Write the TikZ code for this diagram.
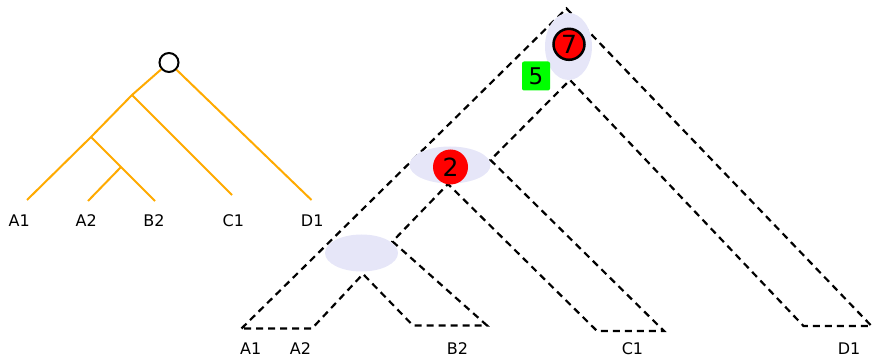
\documentclass[tikz,border=0pt]{standalone}
\usepackage{fontspec}
\setmainfont{DejaVu Sans}
\usetikzlibrary{shapes.geometric,positioning}
\definecolor{geneorange}{RGB}{255,170,0}
\definecolor{lavblob}{RGB}{230,230,248}
\definecolor{dupred}{RGB}{255,0,0}
\definecolor{lossgreen}{RGB}{0,255,0}
\tikzset{
  gene/.style={geneorange,line width=2pt},
  tube/.style={black,line width=2.2pt,dash pattern=on 7pt off 5pt},
  leaf/.style={inner sep=0pt,font=\fontsize{16}{19}\selectfont},
  blob/.style={ellipse,fill=lavblob,inner sep=0pt},
  dup/.style={circle,fill=dupred,inner sep=0pt,minimum size=#1,font=\fontsize{25}{28}\selectfont},
}

\begin{document}
\begin{tikzpicture}[x=1pt,y=-1pt]
  \useasboundingbox (0,0) rectangle (873,358);

  % gene tree (left)
  \node[circle,draw,line width=2pt,fill=white,minimum size=19pt,inner sep=0pt] (g0) at (169,62.5) {};
  \coordinate (g1) at (132,95);
  \coordinate (g2) at (91,137);
  \coordinate (g3) at (121,167);
  \foreach \n/\x/\y/\lx/\lab in {a1/27/200/19.2/A1, a2/88/201/86.2/A2, b2/155/201/154/B2, c1/232/195/233.3/C1, d1/311.5/200/312.2/D1} {
    \coordinate (t\n) at (\x,\y);
    \node[leaf] (l\n) at (\lx,220.5) {\lab};
  }
  \draw[gene] (g0) -- (g1) -- (g2) -- (ta1);
  \draw[gene] (g1) -- (tc1);
  \draw[gene] (g2) -- (g3) -- (tb2);
  \draw[gene] (g3) -- (ta2);
  \draw[gene] (g0) -- (td1);

  % species tree tube (right)
  \coordinate (s0) at (566.5,8.5);
  \coordinate (s1) at (570,80);
  \coordinate (s2) at (490.5,160);
  \coordinate (s3) at (448,184);
  \coordinate (s4) at (392.5,241.5);
  \coordinate (s5) at (363,274);
  \foreach \n/\xl/\xr/\y in {A/241.5/312/328.5, B/413/487/325.5, C/597/664/331, D/803.5/871.5/326} {
    \coordinate (b\n1) at (\xl,\y);
    \coordinate (b\n2) at (\xr,\y);
  }
  \foreach \n/\lx/\lab in {a1/250.8/A1, a2/300.5/A2, b2/457.5/B2, c1/632.5/C1, d1/849/D1}
    \node[leaf] (sp\n) at (\lx,349) {\lab};
  \draw[tube] (bA1) -- (s0) -- (bD2) -- (bD1) -- (s1) -- (s2) -- (bC2) -- (bC1)
    -- (s3) -- (s4) -- (bB2) -- (bB1) -- (s5) -- (bA2) -- cycle;

  % events
  \node[blob,minimum width=47pt,minimum height=67pt] (e7) at (568.5,46.5) {};
  \node[blob,minimum width=81pt,minimum height=37pt] (e2) at (450,165) {};
  \node[blob,minimum width=73pt,minimum height=37pt] (e1) at (361.5,253) {};
  \node[dup=31pt,draw=black,line width=2.5pt] (r7) at (569,44.3) {7};
  \node[dup=35pt] (r2) at (450.5,167) {2};
  \node[fill=lossgreen,rounded corners=2pt,minimum width=28pt,minimum height=29pt,inner sep=0pt,
        font=\fontsize{23}{26}\selectfont] (q5) at (536,76) {5};
\end{tikzpicture}
\end{document}
